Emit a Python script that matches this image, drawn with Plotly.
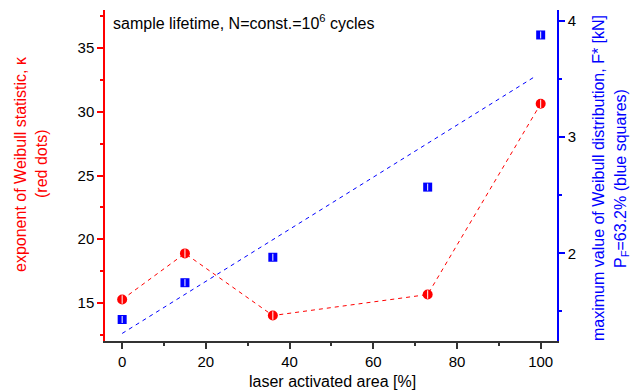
import plotly.graph_objects as go

area = [0, 15, 36, 73, 100]
kappa = [15.26, 18.88, 14.0, 15.65, 30.63]
fstar = [1.43, 1.747, 1.966, 2.57, 3.88]
fit_x = [0, 99]
fit_y = [1.31, 3.53]

FONT = "Arial, Liberation Sans, sans-serif"
RED = "#ff0000"
BLUE = "#0000ff"

fig = go.Figure()

# red dashed connection + circles
fig.add_trace(go.Scatter(x=area, y=kappa, mode="lines", line=dict(color=RED, width=1, dash="4px,4px"),
                         showlegend=False, hoverinfo="skip"))
fig.add_trace(go.Scatter(x=area, y=kappa, mode="markers",
                         marker=dict(symbol="circle", size=10, color=RED, line=dict(width=0)),
                         showlegend=False))
fig.add_trace(go.Scatter(x=area, y=kappa, mode="markers",
                         marker=dict(symbol="line-ns", size=6, line=dict(color="white", width=1)),
                         showlegend=False, hoverinfo="skip"))

# blue fit line + squares
fig.add_trace(go.Scatter(x=fit_x, y=fit_y, mode="lines", yaxis="y2",
                         line=dict(color=BLUE, width=1, dash="4px,4px"),
                         showlegend=False, hoverinfo="skip"))
fig.add_trace(go.Scatter(x=area, y=fstar, mode="markers", yaxis="y2",
                         marker=dict(symbol="square", size=9, color=BLUE, line=dict(width=0)),
                         showlegend=False))
fig.add_trace(go.Scatter(x=area, y=fstar, mode="markers", yaxis="y2",
                         marker=dict(symbol="line-ns", size=5, line=dict(color="white", width=1)),
                         showlegend=False, hoverinfo="skip"))

fig.update_layout(
    width=634, height=392,
    margin=dict(l=105, r=77, t=10, b=51),
    paper_bgcolor="white", plot_bgcolor="white",
    font=dict(family=FONT, size=15, color="black"),
    xaxis=dict(range=[-4.1, 103.9], dtick=20, tick0=0, showgrid=False, zeroline=False,
               showline=True, linecolor="#333333", linewidth=2,
               ticks="outside", ticklen=6, tickwidth=1.5, tickcolor="#333333",
               minor=dict(dtick=10, ticks="outside", ticklen=3, tickwidth=1.5, tickcolor="#333333"),
               tickfont=dict(size=15, color="black")),
    yaxis=dict(range=[12, 38], dtick=5, tick0=0, showgrid=False, zeroline=False,
               showline=True, linecolor=RED, linewidth=1.5,
               ticks="outside", ticklen=6, tickwidth=1.5, tickcolor=RED,
               minor=dict(dtick=2.5, ticks="outside", ticklen=3, tickwidth=1.5, tickcolor=RED),
               tickfont=dict(size=15, color="black")),
    yaxis2=dict(range=[1.245, 4.095], dtick=1, tick0=0, overlaying="y", side="right",
                showgrid=False, zeroline=False,
                showline=True, linecolor=BLUE, linewidth=1.5,
                ticks="outside", ticklen=6, tickwidth=1.5, tickcolor=BLUE,
                minor=dict(dtick=0.5, ticks="outside", ticklen=3, tickwidth=1.5, tickcolor=BLUE),
                tickfont=dict(size=15, color="black")),
)

annotations = [
    dict(text="sample lifetime, N=const.=10<sup>6</sup> cycles", x=111, y=392 - 22,
         showarrow=False, xanchor="left", yanchor="middle",
         font=dict(size=16, color="black")),
    dict(text="laser activated area [%]", x=332, y=392 - 381,
         showarrow=False, xanchor="center", yanchor="middle", font=dict(size=16, color="black")),
    dict(text="exponent of Weibull statistic, κ", x=20, y=392 - 164, textangle=-90,
         showarrow=False, xanchor="center", yanchor="middle", font=dict(size=16, color=RED)),
    dict(text="(red dots)", x=41, y=392 - 164, textangle=-90,
         showarrow=False, xanchor="center", yanchor="middle", font=dict(size=16, color=RED)),
    dict(text="maximum value of Weibull distribution, F* [kN]", x=598, y=392 - 178, textangle=-90,
         showarrow=False, xanchor="center", yanchor="middle", font=dict(size=16, color=BLUE)),
    dict(text="P<sub>F</sub>=63.2% (blue squares)", x=621, y=392 - 179, textangle=-90,
         showarrow=False, xanchor="center", yanchor="middle", font=dict(size=16, color=BLUE)),
]
# convert pixel positions to paper coordinates
pw, ph = 634 - 105 - 77, 392 - 10 - 51
for a in annotations:
    a["x"] = (a["x"] - 105) / pw
    a["y"] = (a["y"] - 51) / ph
    a["xref"] = "paper"
    a["yref"] = "paper"
fig.update_layout(annotations=annotations)

fig.write_html("out.html")
